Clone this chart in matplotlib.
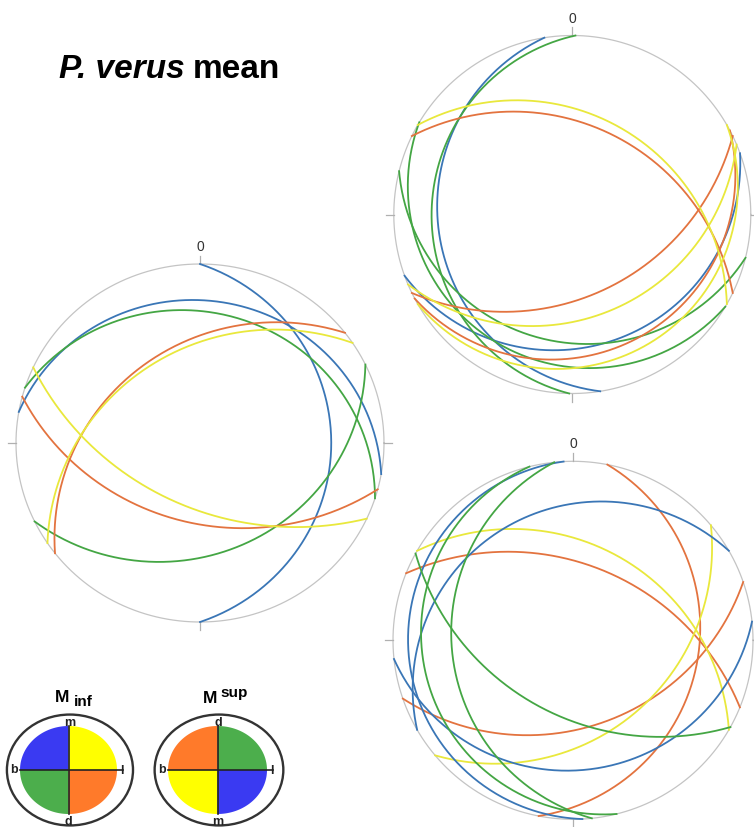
import numpy as np
import matplotlib
matplotlib.use('Agg')
import matplotlib.pyplot as plt
from matplotlib.patches import Ellipse

W, H = 754, 828
plt.rcParams['font.family'] = ['Liberation Sans', 'DejaVu Sans']

line_col = {'b': '#3a76b6', 'g': '#44a644', 'r': '#e3733f', 'y': '#e9e83c'}

# great circles (strike, dip with right-hand rule)
left_cols = ['b', 'b', 'g', 'g', 'r', 'r', 'y', 'y']
left_strike = [0, 280, 288, 64, 105, 232, 115, 236]
left_dip = [19, 13, 18, 27, 42, 34, 51, 36]

tr_cols = ['b', 'b', 'g', 'g', 'g', 'r', 'r', 'r', 'y', 'y', 'y']
tr_strike = [171, 70, 104, 121, 181, 64, 296, 62, 300, 67, 60]
tr_dip = [16, 17, 19, 10.5, 13.5, 41, 37, 14, 32, 30, 10]

br_cols = ['r', 'r', 'r', 'y', 'y', 'b', 'b', 'b', 'g', 'g', 'g']
br_strike = [11, 292, 71, 300, 50, 177, 84, 240, 119, 174, 166]
br_dip = [20, 44, 38, 34, 34, 5, 18, 17.5, 45, 22, 10]

# key diagrams: quadrant colours (upper right, upper left, lower left, lower right)
key_inf_cols = ['#ffff00', '#3a3af2', '#4cae4c', '#ff7a2a']
key_inf_labels = ['m', 'd', 'b', 'l']   # top, bottom, left, right
key_sup_cols = ['#4cae4c', '#ff7a2a', '#ffff00', '#3a3af2']
key_sup_labels = ['d', 'm', 'b', 'l']


def great_circle(strike, dip, n=300):
    s = np.radians(strike)
    d = np.radians(dip)
    rake = np.linspace(0, np.pi, n)
    sv = np.array([np.sin(s), np.cos(s), 0.0])
    dd = s + np.pi / 2
    dv = np.array([np.cos(d) * np.sin(dd), np.cos(d) * np.cos(dd), np.sin(d)])
    v = np.outer(np.cos(rake), sv) + np.outer(np.sin(rake), dv)
    plunge = np.arcsin(np.clip(v[:, 2], -1, 1))
    trend = np.arctan2(v[:, 0], v[:, 1])
    r = np.tan(np.pi / 4 - plunge / 2)
    return r * np.sin(trend), r * np.cos(trend)


fig = plt.figure(figsize=(W / 100, H / 100), dpi=100)


def add_net(cx, cy, rx, ry, strikes, dips, cols):
    ax = fig.add_axes([(cx - 1.1 * rx) / W, 1 - (cy + 1.1 * ry) / H,
                       2.2 * rx / W, 2.2 * ry / H])
    ax.set_xlim(-1.1, 1.1)
    ax.set_ylim(-1.1, 1.1)
    ax.axis('off')
    t = np.linspace(0, 2 * np.pi, 400)
    ax.plot(np.cos(t), np.sin(t), color='#c4c4c4', lw=0.9)
    for a in [0, 90, 180, 270]:
        ca, sa = np.cos(np.radians(a)), np.sin(np.radians(a))
        ax.plot([ca, 1.045 * ca], [sa, 1.045 * sa], color='#b0b0b0', lw=0.9)
    for s, d, c in zip(strikes, dips, cols):
        x, y = great_circle(s, d)
        ax.plot(x, y, color=line_col[c], lw=1.3)
    ax.text(0, 1.1, '0', ha='center', va='center', fontsize=10, color='#333333')


add_net(200, 444, 184, 179, left_strike, left_dip, left_cols)
add_net(572.3, 215.5, 178.5, 179, tr_strike, tr_dip, tr_cols)
add_net(573, 641.3, 180, 179, br_strike, br_dip, br_cols)


def add_key(cx, cy, rx, ry, qcols, labels):
    ax = fig.add_axes([(cx - 1.35 * rx) / W, 1 - (cy + 1.35 * ry) / H,
                       2.7 * rx / W, 2.7 * ry / H])
    ax.set_xlim(-1.35, 1.35)
    ax.set_ylim(-1.35, 1.35)
    ax.axis('off')
    for i, c in enumerate(qcols):
        th = np.linspace(np.pi / 2 * i, np.pi / 2 * (i + 1), 60)
        ax.fill(np.r_[0, np.cos(th)], np.r_[0, np.sin(th)], color=c, lw=0)
    ax.plot([-1.0, 1.12], [0, 0], color='#222222', lw=1.2)
    ax.plot([0, 0], [-1.0, 1.0], color='#222222', lw=1.2)
    ax.add_patch(Ellipse((0.03, 0), 2.6, 2.52, fill=False, ec='#333333', lw=1.7,
                         clip_on=False))
    kw = dict(ha='center', va='center', fontsize=9, fontweight='bold', color='#222222')
    ax.text(0.02, 1.09, labels[0], **kw)
    ax.text(0, -1.17, labels[1], **kw)
    ax.text(-1.12, 0.02, labels[2], **kw)
    ax.text(1.1, 0.0, labels[3], **kw)
    return ax


add_key(68.5, 771, 48.5, 44, key_inf_cols, key_inf_labels)
add_key(217.5, 771, 49.5, 44, key_sup_cols, key_sup_labels)

# key titles
fig.text(62 / W, 1 - 698 / H, 'M', ha='center', va='center', fontsize=12.5, fontweight='bold')
fig.text(83 / W, 1 - 702 / H, 'inf', ha='center', va='center', fontsize=11, fontweight='bold')
fig.text(210 / W, 1 - 699 / H, 'M', ha='center', va='center', fontsize=12.5, fontweight='bold')
fig.text(234 / W, 1 - 693 / H, 'sup', ha='center', va='center', fontsize=11, fontweight='bold')

# title
fig.text(59 / W, 1 - 78 / H, 'P. verus', ha='left', va='baseline', fontsize=24,
         fontweight='bold', fontstyle='italic')
fig.text(193 / W, 1 - 78 / H, 'mean', ha='left', va='baseline', fontsize=24,
         fontweight='bold')

fig.savefig('out.png', dpi=100)
